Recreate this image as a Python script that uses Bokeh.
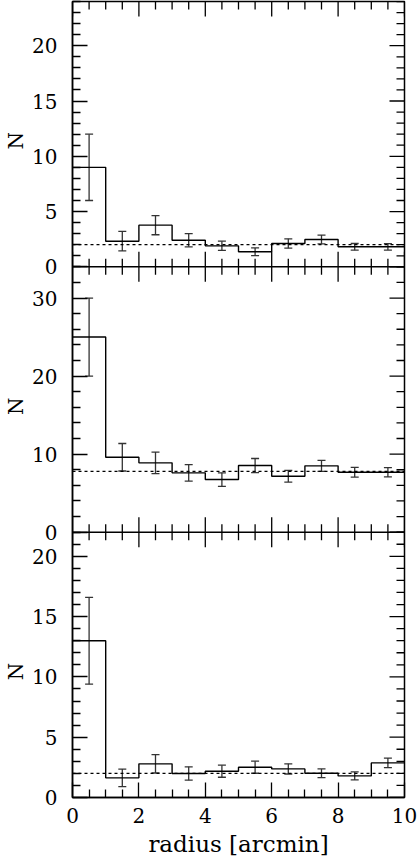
import math
from bokeh.plotting import figure
from bokeh.layouts import row
from bokeh.models import (Range1d, FixedTicker, CustomJSTickFormatter,
                          ColumnDataSource, Whisker, TeeHead, Span)
from bokeh.core.properties import value
from bokeh.embed import file_html
from bokeh.resources import INLINE

# ---- data ----
bin_edges = [0, 1, 2, 3, 4, 5, 6, 7, 8, 9, 10]
bin_centers = [0.5, 1.5, 2.5, 3.5, 4.5, 5.5, 6.5, 7.5, 8.5, 9.5]

n_top = [9.0, 2.32, 3.77, 2.41, 1.9, 1.36, 2.11, 2.47, 1.81, 1.81]
err_top = [3.0, 0.88, 0.87, 0.60, 0.42, 0.35, 0.42, 0.40, 0.30, 0.29]
bkg_top = 2.0
ymax_top = 24

n_mid = [25.0, 9.6, 8.88, 7.6, 6.74, 8.54, 7.17, 8.5, 7.68, 7.68]
err_mid = [5.0, 1.76, 1.38, 1.05, 0.86, 0.90, 0.75, 0.70, 0.62, 0.60]
bkg_mid = 7.8
ymax_mid = 34

n_bot = [13.0, 1.63, 2.79, 1.99, 2.18, 2.51, 2.37, 2.01, 1.79, 2.87]
err_bot = [3.6, 0.73, 0.76, 0.55, 0.50, 0.50, 0.42, 0.36, 0.33, 0.40]
bkg_bot = 2.0
ymax_bot = 22

y_major_top = [0, 5, 10, 15, 20]
y_minor_top = list(range(0, 25, 1))
y_major_mid = [0, 10, 20, 30]
y_minor_mid = list(range(0, 35, 2))
y_major_bot = [0, 5, 10, 15, 20]
y_minor_bot = list(range(0, 23, 1))

x_major = [0, 2, 4, 6, 8, 10]
x_minor = [i * 0.5 for i in range(21)]

y_title = "N"
x_title = "radius [arcmin]"

FONT = "DejaVu Serif"
H = 864
LAB_W = 28
TOP_B = 1
BOT_B = 67

# narrow strip holding the three rotated "N" titles (frames are aligned in the row)
lab = figure(width=LAB_W, height=H, output_backend="svg", toolbar_location=None,
             x_range=Range1d(0, LAB_W), y_range=Range1d(0, 3),
             min_border_left=0, min_border_right=0, min_border_top=TOP_B,
             min_border_bottom=BOT_B)
lab.axis.visible = False
lab.grid.visible = False
lab.outline_line_color = None
lab.border_fill_color = "white"
lab.background_fill_color = "white"

p = figure(width=417 - LAB_W, height=H, output_backend="svg", toolbar_location=None,
           x_range=Range1d(0, 10), y_range=Range1d(0, 3),
           min_border_left=72 - LAB_W, min_border_right=13, min_border_top=TOP_B,
           min_border_bottom=BOT_B)
p.outline_line_color = "black"
p.outline_line_width = 1.5
p.xgrid.visible = False
p.ygrid.visible = False
p.background_fill_color = "white"
p.border_fill_color = "white"

panels = [
    ("p0", n_top, err_top, bkg_top, ymax_top, y_major_top, y_minor_top),
    ("p1", n_mid, err_mid, bkg_mid, ymax_mid, y_major_mid, y_minor_mid),
    ("p2", n_bot, err_bot, bkg_bot, ymax_bot, y_major_bot, y_minor_bot),
]

major_pos, minor_pos, title_y = [], [], []
for k, (name, n, err, bkg, ymax, ymaj, ymin) in enumerate(panels):
    base = 2 - k
    # panel k occupies [base, base+1] of the main range
    p.extra_y_ranges[name] = Range1d(-(2 - k) * ymax, (1 + k) * ymax)
    major_pos += [base + v / ymax for v in ymaj]
    minor_pos += [base + v / ymax for v in ymin if v not in ymaj]
    title_y.append(base + 0.5 - 0.025)

    p.step(x=bin_edges, y=n + [n[-1]], mode="after", y_range_name=name,
           line_color="black", line_width=1.4)
    src = ColumnDataSource(dict(x=bin_centers,
                                up=[a + b for a, b in zip(n, err)],
                                lo=[a - b for a, b in zip(n, err)]))
    p.add_layout(Whisker(source=src, base="x", upper="up", lower="lo",
                         y_range_name=name, line_color="#333333", line_width=1.3,
                         upper_head=TeeHead(size=8, line_color="#333333", line_width=1.3),
                         lower_head=TeeHead(size=8, line_color="#333333", line_width=1.3)))
    p.add_layout(Span(location=bkg, dimension="width", y_range_name=name,
                      line_color="black", line_width=1.2, line_dash="3 3"))

lab.text(x=[15] * len(title_y), y=title_y, text=[y_title] * len(title_y),
         angle=math.pi / 2, text_align="center", text_baseline="middle",
         text_font=value(FONT), text_font_size="20px", text_color="black")

# panel boundaries
for b in [1, 2]:
    p.add_layout(Span(location=b, dimension="width", line_color="black", line_width=1.5))

x_minor_only = [v for v in x_minor if v not in x_major]
# inward ticks at internal boundaries and at the top
for yb, dirs in [(1, [math.pi / 2, -math.pi / 2]), (2, [math.pi / 2, -math.pi / 2]), (3, [-math.pi / 2])]:
    for ang in dirs:
        p.ray(x=x_major, y=[yb] * len(x_major), length=15, length_units="screen",
              angle=ang, line_color="black", line_width=1.3)
        p.ray(x=x_minor_only, y=[yb] * len(x_minor_only), length=8, length_units="screen",
              angle=ang, line_color="black", line_width=1.3)

# inward ticks on the right side
p.ray(x=[10] * len(major_pos), y=major_pos, length=15, length_units="screen",
      angle=math.pi, line_color="black", line_width=1.3)
p.ray(x=[10] * len(minor_pos), y=minor_pos, length=8, length_units="screen",
      angle=math.pi, line_color="black", line_width=1.3)

# left axis
yticker = FixedTicker(ticks=major_pos, minor_ticks=minor_pos)
ya = p.yaxis[0]
ya.ticker = yticker
ya.formatter = CustomJSTickFormatter(args=dict(ymaxs=[ymax_bot, ymax_mid, ymax_top]), code="""
    let k = Math.floor(tick + 1e-6);
    if (k > 2) k = 2;
    if (k < 0) k = 0;
    const v = Math.round((tick - k) * ymaxs[k]);
    return String(v);
""")

xa = p.xaxis[0]
for ax in [ya, xa]:
    ax.major_tick_in = 15
    ax.major_tick_out = 0
    ax.minor_tick_in = 8
    ax.minor_tick_out = 0
    ax.axis_line_color = "black"
    ax.axis_line_width = 1.5
    ax.major_tick_line_color = "black"
    ax.minor_tick_line_color = "black"
    ax.major_tick_line_width = 1.3
    ax.minor_tick_line_width = 1.3
    ax.major_label_text_font = FONT
    ax.major_label_text_color = "black"
    ax.major_label_text_font_size = "20px"

ya.major_label_standoff = 15

xa.ticker = FixedTicker(ticks=x_major, minor_ticks=x_minor_only)
xa.major_label_standoff = 10
xa.axis_label = x_title
xa.axis_label_text_font = FONT
xa.axis_label_text_font_size = "23px"
xa.axis_label_text_font_style = "normal"
xa.axis_label_text_color = "black"
xa.axis_label_standoff = 5

layout = row(lab, p, spacing=0)
open("out.html", "w").write(file_html(layout, INLINE))
